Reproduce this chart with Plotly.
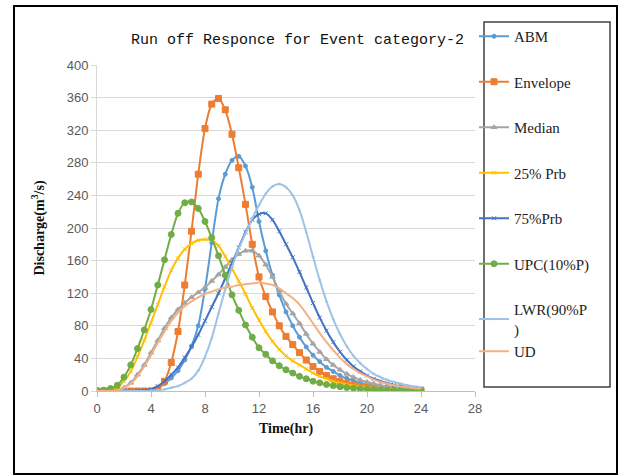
import plotly.graph_objects as go

# Time axis (hr)
time_hr = [0, 0.5, 1, 1.5, 2, 2.5, 3, 3.5, 4, 4.5, 5, 5.5, 6, 6.5, 7, 7.5, 8, 8.5, 9, 9.5,
           10, 10.5, 11, 11.5, 12, 12.5, 13, 13.5, 14, 14.5, 15, 15.5, 16, 16.5, 17, 17.5,
           18, 18.5, 19, 19.5, 20, 20.5, 21, 21.5, 22, 22.5, 23, 23.5, 24]

abm = [0, 0, 0, 0, 0, 0, 0, 0.5, 1, 4, 9, 16, 25, 38, 55, 80, 125, 182, 236, 266,
       283, 288, 276, 250, 208, 172, 142, 118, 97, 80, 66, 54, 44, 36, 29, 24,
       19, 15.5, 12.5, 10, 8, 6.5, 5.3, 4.3, 3.5, 2.8, 2.3, 1.9, 1.5]
envelope = [0, 0, 0, 0, 0, 0, 0, 0, 0, 2, 12, 35, 73, 130, 196, 266, 322, 352, 359, 345,
            315, 274, 229, 180, 140, 116, 97, 80, 67, 57, 47, 38, 30, 24, 19, 15,
            11.5, 9, 7, 5.5, 4.3, 3.4, 2.7, 2.2, 1.7, 1.4, 1.1, 0.9, 0.7]
median = [0, 0, 0, 0.5, 4, 10, 20, 32, 47, 62, 77, 90, 100, 108, 115, 121, 127, 135, 143, 152,
          161, 168, 172, 172, 166, 155, 140, 123, 107, 95, 83, 70, 58, 48, 39, 32,
          26, 21, 17, 13.5, 11, 9, 7, 5.5, 4.5, 3.5, 3, 2.5, 2]
prb25 = [0, 0, 1, 4, 12, 24, 42, 62, 84, 106, 128, 148, 163, 174, 181, 185, 186, 185, 178, 165,
         150, 135, 119, 102, 87, 73, 61, 51, 43, 37, 32, 27, 22, 18, 15, 12,
         10, 8, 6.5, 5.3, 4.3, 3.5, 2.8, 2.3, 1.9, 1.5, 1.2, 1, 0.8]
prb75 = [0, 0, 0, 0, 0, 0, 0.5, 1, 2, 6, 12, 20, 29, 41, 54, 69, 86, 103, 120, 138,
         157, 176, 195, 210, 217, 218, 210, 196, 180, 164, 146, 127, 108, 90, 74, 60,
         48, 38, 30, 24, 19, 15, 12, 9.5, 7.5, 6, 5, 4, 3]
upc10 = [0.5, 1, 3, 7, 17, 32, 52, 75, 100, 130, 161, 192, 218, 231, 232, 224, 208, 188, 166, 142,
         118, 99, 81, 66, 53, 45, 37, 31, 26, 22, 18, 15, 12, 10, 8, 6.5,
         5.2, 4.2, 3.4, 2.7, 2.2, 1.8, 1.4, 1.1, 0.9, 0.7, 0.6, 0.5, 0.4]
lwr90 = [0, 0, 0, 0, 0, 0, 0, 0, 0.5, 1, 2, 4, 6, 10, 15, 25, 42, 65, 95, 125,
         152, 175, 193, 212, 228, 242, 251, 254, 250, 240, 222, 195, 165, 136, 110, 88,
         70, 55, 43, 34, 27, 21, 17, 13.5, 11, 9, 7, 5.5, 4.5]
ud = [0, 0, 0, 1, 4, 9, 18, 30, 44, 59, 73, 86, 96, 104, 110, 115, 119, 122, 125, 127,
      128, 130, 131, 132, 133, 132, 130, 126, 120, 114, 106, 95, 83, 71, 60, 50,
      41, 33, 27, 22, 18, 14, 11, 9, 7, 5.5, 4.5, 3.5, 3]

series_names = ["ABM", "Envelope", "Median", "25% Prb", "75%Prb", "UPC(10%P)", "LWR(90%P<br>)", "UD"]
series_values = [abm, envelope, median, prb25, prb75, upc10, lwr90, ud]
colors = ["#5B9BD5", "#ED7D31", "#A5A5A5", "#FFC000", "#4472C4", "#70AD47", "#9DC3E6", "#F4B183"]
symbols = ["circle", "square", "triangle-up", "x-thin-open", "x-thin-open", "circle", "cross-thin-open", None]
msizes = [4, 6, 5, 4, 4, 6, 2, 0]
groups = ["g0", "g1", "g2", "g3", "g4", "g5", "g6", "g6"]

title_text = "Run off Responce for Event category-2"
x_ticks = [0, 4, 8, 12, 16, 20, 24, 28]
y_ticks = [0, 40, 80, 120, 160, 200, 240, 280, 320, 360, 400]

fig = go.Figure()
for name, vals, col, sym, ms, grp in zip(series_names, series_values, colors, symbols, msizes, groups):
    if sym is None:
        fig.add_trace(go.Scatter(x=time_hr, y=vals, name=name, mode="lines",
                                 line=dict(color=col, width=2, shape="spline", smoothing=0.8),
                                 legendgroup=grp))
    else:
        fig.add_trace(go.Scatter(x=time_hr, y=vals, name=name, mode="lines+markers",
                                 line=dict(color=col, width=2, shape="spline", smoothing=0.8),
                                 marker=dict(symbol=sym, size=ms, color=col,
                                             line=dict(color=col, width=1)),
                                 legendgroup=grp))

L, R, T, B = 97, 145, 65, 85
W, H = 620, 476
pw, ph = W - L - R, H - T - B

def px(xp):
    return (xp - L) / pw

def py(yp):
    return (H - B - yp) / ph

fig.update_layout(
    width=W, height=H,
    margin=dict(l=L, r=R, t=T, b=B),
    paper_bgcolor="white", plot_bgcolor="white",
    showlegend=True,
    legend=dict(x=px(474), y=py(20), xanchor="left", yanchor="top",
                font=dict(family="Liberation Serif", size=15, color="#222222"),
                bgcolor="rgba(0,0,0,0)", borderwidth=0, maxheight=450,
                tracegroupgap=23, itemwidth=30, traceorder="grouped"),
    xaxis=dict(range=[0, 28], tickvals=x_ticks, showgrid=False, zeroline=False,
               showline=True, linecolor="#BFBFBF", linewidth=1,
               ticks="outside", ticklen=5, tickcolor="#BFBFBF",
               tickfont=dict(family="Liberation Sans", size=13, color="#595959"),
               title=dict(text="<b>Time(hr)</b>", standoff=8,
                          font=dict(family="Liberation Serif", size=14, color="#111111"))),
    yaxis=dict(range=[0, 400], tickvals=y_ticks, showgrid=True, gridcolor="#D9D9D9",
               gridwidth=1, zeroline=False,
               showline=True, linecolor="#D9D9D9", linewidth=1,
               ticks="outside", ticklen=5, tickcolor="#D9D9D9",
               tickfont=dict(family="Liberation Sans", size=13, color="#595959"),
               title=dict(text="<b>Discharge(m<sup>3</sup>/s)</b>", standoff=18,
                          font=dict(family="Liberation Serif", size=14, color="#111111"))),
    annotations=[dict(text=title_text, xref="paper", yref="paper",
                      x=px(297), y=py(41), xanchor="center", yanchor="middle",
                      showarrow=False,
                      font=dict(family="Liberation Mono", size=15, color="#111111"))],
    shapes=[
        dict(type="rect", xref="paper", yref="paper",
             x0=px(14), x1=px(617), y0=py(474), y1=py(6),
             line=dict(color="#000000", width=2), layer="above"),
        dict(type="rect", xref="paper", yref="paper",
             x0=px(484), x1=px(610), y0=py(387), y1=py(22),
             line=dict(color="#404040", width=1.5), layer="above"),
    ],
)

fig.write_html("out.html")
